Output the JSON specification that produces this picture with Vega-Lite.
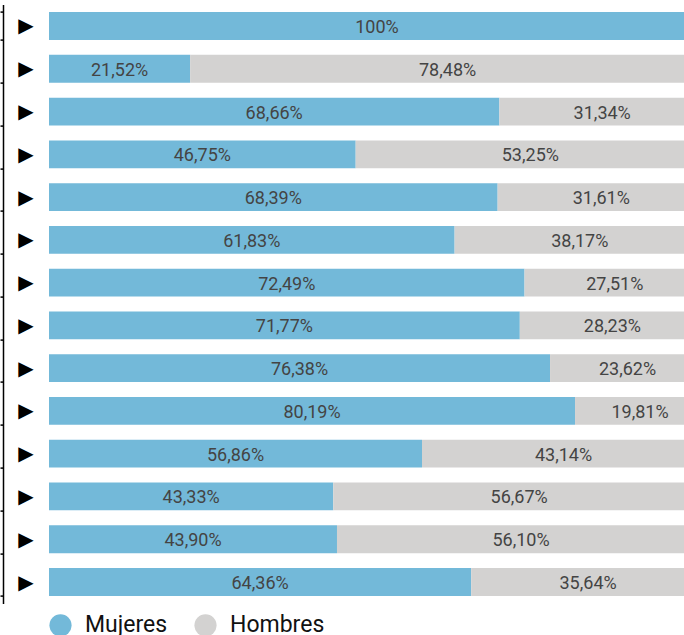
{
  "$schema": "https://vega.github.io/schema/vega-lite/v6.json",
  "autosize": {"type": "none"},
  "padding": {"left": 49, "top": 4.6, "right": 0, "bottom": 31.6},
  "width": 656,
  "height": 598.8,
  "config": {"view": {"stroke": null}, "font": "Roboto"},
  "data": {"values": [
    {"row": 1, "genero": "Mujeres", "valor": 100, "label": "100%"},
    {"row": 1, "genero": "Hombres", "valor": 0, "label": "0%"},
    {"row": 2, "genero": "Mujeres", "valor": 21.52, "label": "21,52%"},
    {"row": 2, "genero": "Hombres", "valor": 78.48, "label": "78,48%"},
    {"row": 3, "genero": "Mujeres", "valor": 68.66, "label": "68,66%"},
    {"row": 3, "genero": "Hombres", "valor": 31.34, "label": "31,34%"},
    {"row": 4, "genero": "Mujeres", "valor": 46.75, "label": "46,75%"},
    {"row": 4, "genero": "Hombres", "valor": 53.25, "label": "53,25%"},
    {"row": 5, "genero": "Mujeres", "valor": 68.39, "label": "68,39%"},
    {"row": 5, "genero": "Hombres", "valor": 31.61, "label": "31,61%"},
    {"row": 6, "genero": "Mujeres", "valor": 61.83, "label": "61,83%"},
    {"row": 6, "genero": "Hombres", "valor": 38.17, "label": "38,17%"},
    {"row": 7, "genero": "Mujeres", "valor": 72.49, "label": "72,49%"},
    {"row": 7, "genero": "Hombres", "valor": 27.51, "label": "27,51%"},
    {"row": 8, "genero": "Mujeres", "valor": 71.77, "label": "71,77%"},
    {"row": 8, "genero": "Hombres", "valor": 28.23, "label": "28,23%"},
    {"row": 9, "genero": "Mujeres", "valor": 76.38, "label": "76,38%"},
    {"row": 9, "genero": "Hombres", "valor": 23.62, "label": "23,62%"},
    {"row": 10, "genero": "Mujeres", "valor": 80.19, "label": "80,19%"},
    {"row": 10, "genero": "Hombres", "valor": 19.81, "label": "19,81%"},
    {"row": 11, "genero": "Mujeres", "valor": 56.86, "label": "56,86%"},
    {"row": 11, "genero": "Hombres", "valor": 43.14, "label": "43,14%"},
    {"row": 12, "genero": "Mujeres", "valor": 43.33, "label": "43,33%"},
    {"row": 12, "genero": "Hombres", "valor": 56.67, "label": "56,67%"},
    {"row": 13, "genero": "Mujeres", "valor": 43.90, "label": "43,90%"},
    {"row": 13, "genero": "Hombres", "valor": 56.10, "label": "56,10%"},
    {"row": 14, "genero": "Mujeres", "valor": 64.36, "label": "64,36%"},
    {"row": 14, "genero": "Hombres", "valor": 35.64, "label": "35,64%"}
  ]},
  "transform": [
    {"stack": "valor", "groupby": ["row"], "sort": [{"field": "genero", "order": "descending"}], "as": ["v0", "v1"]},
    {"calculate": "(datum.v0 + datum.v1) / 2", "as": "mid"}
  ],
  "encoding": {
    "y": {
      "field": "row", "type": "ordinal", "sort": null,
      "scale": {"paddingInner": 0.35, "paddingOuter": 0.175},
      "axis": {
        "title": null, "orient": "left", "offset": 46, "grid": false,
        "domain": true, "domainColor": "#000", "domainWidth": 1.5,
        "ticks": true, "tickBand": "extent", "tickSize": 3, "tickColor": "#000", "tickWidth": 1.5,
        "tickOffset": -2, "labelOffset": 0,
        "labelExpr": "(datum.extra || datum.index < 0) ? '' : '▶'", "labelFont": "DejaVu Sans", "labelFontSize": 20, "labelColor": "#000",
        "labelAlign": "center", "labelBaseline": "middle", "labelPadding": -25.5
      }
    }
  },
  "layer": [
    {
      "mark": {"type": "bar"},
      "encoding": {
        "x": {"field": "v0", "type": "quantitative", "scale": {"domain": [0, 100]}, "axis": null},
        "x2": {"field": "v1"},
        "color": {
          "field": "genero", "type": "nominal",
          "scale": {"domain": ["Mujeres", "Hombres"], "range": ["#73b9d9", "#d3d2d1"]},
          "legend": {
            "orient": "bottom", "direction": "horizontal", "title": null,
            "symbolType": "circle", "symbolSize": 490, "symbolStrokeWidth": 0,
            "labelFont": "Roboto", "labelFontSize": 23, "labelColor": "#111",
            "labelOffset": 13, "columnPadding": 26, "offset": 10
          }
        }
      }
    },
    {
      "transform": [{"filter": "datum.valor > 0"}],
      "mark": {"type": "text", "fontSize": 18, "color": "#444", "font": "Roboto", "dy": 2},
      "encoding": {
        "x": {"field": "mid", "type": "quantitative"},
        "text": {"field": "label"}
      }
    }
  ]
}
